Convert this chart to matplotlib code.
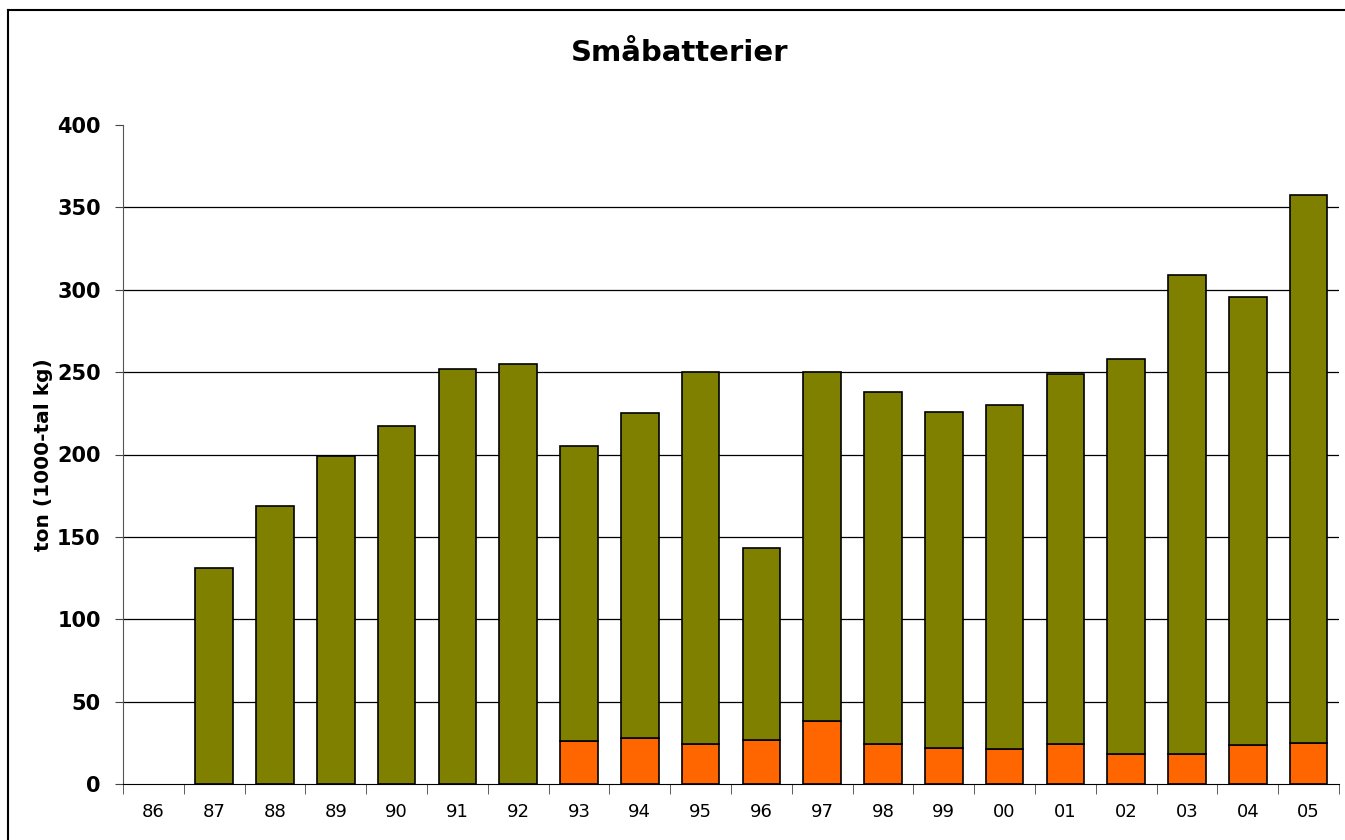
import matplotlib
matplotlib.use('Agg')
import matplotlib.pyplot as plt
import numpy as np
from matplotlib.lines import Line2D

# data (nan = no bar)
years = ['86', '87', '88', '89', '90', '91', '92', '93', '94', '95',
         '96', '97', '98', '99', '00', '01', '02', '03', '04', '05']
orange = [np.nan, np.nan, np.nan, np.nan, np.nan, np.nan, np.nan,
          26, 28, 24, 27, 38, 24, 22, 21, 24, 18, 18, 23.5, 25]
olive = [np.nan, 131, 169, 199, 217, 252, 255, 179, 197, 226, 116, 212, 214, 204, 209, 225, 240, 291, 272, 332.5]
yticks = [0, 50, 100, 150, 200, 250, 300, 350, 400]

fig = plt.figure(figsize=(13.45, 8.4), dpi=100)
ax = fig.add_axes([123/1345, 1-784/840, 1216/1345, 659/840])

x = np.arange(len(years))
for t in yticks[1:-1]:
    ax.axhline(t, color='black', lw=0.9, zorder=0)

ax.bar(x, orange, width=0.62, color='#FF6600', edgecolor='black', linewidth=1.2, zorder=2)
ax.bar(x, olive, width=0.62, bottom=np.nan_to_num(orange), color='#808000',
       edgecolor='black', linewidth=1.2, zorder=2)

ax.set_xlim(-0.5, len(years) - 0.5)
ax.set_ylim(0, 400)
ax.set_yticks(yticks)
ax.set_yticklabels([str(t) for t in yticks], fontsize=15, fontweight='bold')
ax.set_xticks(x)
ax.set_xticklabels(years, fontsize=13)
ax.set_xticks(np.arange(-0.5, len(years)), minor=True)
ax.tick_params(axis='x', which='major', length=0, pad=14)
ax.tick_params(axis='x', which='minor', length=7, color='#444444')
ax.tick_params(axis='y', length=6, color='#444444', pad=10)

for s in ['top', 'right']:
    ax.spines[s].set_visible(False)
ax.spines['left'].set_color('#555555')
ax.spines['bottom'].set_color('black')

ax.set_ylabel('ton (1000-tal kg)', fontsize=14.5, fontweight='bold', labelpad=3)
fig.text(680/1345, 1-53/840, 'Småbatterier', ha='center', va='center', fontsize=21, fontweight='bold')

# outer frame (cut off at right and bottom)
fig.add_artist(Line2D([8/1345, 8/1345], [0, 1-10/840], color='black', lw=1.5, transform=fig.transFigure))
fig.add_artist(Line2D([8/1345, 1], [1-10/840, 1-10/840], color='black', lw=1.5, transform=fig.transFigure))

fig.savefig('out.png', dpi=100)
